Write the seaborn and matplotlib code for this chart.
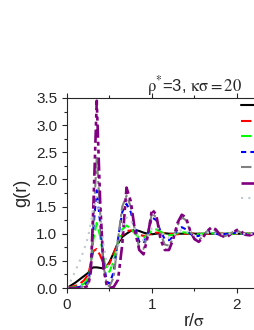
# g(r) curves, rho*=3, kappa*sigma=20
import numpy as np
import pandas as pd
import matplotlib
matplotlib.use("Agg")
import matplotlib.pyplot as plt
import seaborn as sns

# data
r = [0, 0.05, 0.1, 0.15, 0.2, 0.25, 0.28, 0.31, 0.35, 0.39, 0.43, 0.47, 0.5, 0.55, 0.6, 0.65,
     0.7, 0.75, 0.8, 0.85, 0.9, 0.95, 1.0, 1.05, 1.1, 1.15, 1.2, 1.25, 1.3, 1.35, 1.4, 1.45,
     1.5, 1.55, 1.6, 1.65, 1.7, 1.75, 1.8, 1.85, 1.9, 1.95, 2.0, 2.05, 2.1, 2.15, 2.2, 2.3]
g_black = [0, 0.05, 0.1, 0.16, 0.22, 0.28, 0.35, 0.38, 0.38, 0.37, 0.36, 0.4, 0.48, 0.65, 0.82, 0.94,
           1.0, 1.05, 1.07, 1.05, 1.02, 1.0, 0.99, 1.0, 1.01, 1.01, 1.0, 1.0, 1.0, 1.0, 1.0, 1.0,
           1.0, 1.0, 1.0, 1.0, 1.0, 1.0, 1.0, 1.0, 1.0, 1.0, 1.0, 1.0, 1.0, 1.0, 1.0, 1.0]
g_red = [0, 0.02, 0.04, 0.08, 0.14, 0.25, 0.45, 0.68, 0.72, 0.6, 0.45, 0.4, 0.45, 0.64, 0.85, 0.98,
         1.05, 1.06, 1.03, 0.98, 0.96, 0.97, 1.0, 1.02, 1.02, 1.01, 1.0, 0.99, 0.99, 1.0, 1.0, 1.01,
         1.0, 1.0, 0.99, 1.0, 1.0, 1.0, 1.0, 1.0, 1.0, 1.0, 1.0, 1.0, 1.0, 1.0, 1.0, 1.0]
g_green = [0, 0.01, 0.02, 0.04, 0.08, 0.18, 0.4, 0.9, 1.2, 0.95, 0.55, 0.32, 0.3, 0.5, 0.85, 1.08,
           1.15, 1.1, 1.0, 0.93, 0.93, 0.98, 1.06, 1.08, 1.04, 0.99, 0.97, 0.98, 1.01, 1.03, 1.02, 1.0,
           0.99, 0.99, 1.0, 1.01, 1.01, 1.0, 1.0, 1.0, 1.0, 1.0, 1.0, 1.0, 1.0, 1.0, 1.0, 1.0]
g_blue = [0, 0.0, 0.01, 0.02, 0.05, 0.12, 0.4, 1.1, 1.8, 1.2, 0.45, 0.12, 0.08, 0.3, 0.9, 1.4,
          1.55, 1.4, 1.1, 0.85, 0.82, 1.0, 1.3, 1.25, 1.05, 0.9, 0.88, 0.95, 1.08, 1.12, 1.08, 1.0,
          0.95, 0.96, 1.0, 1.03, 1.03, 1.0, 0.98, 0.99, 1.0, 1.01, 1.02, 1.0, 0.99, 1.0, 1.0, 1.0]
g_gray = [0, 0, 0.0, 0.01, 0.03, 0.08, 0.35, 1.2, 2.4, 1.4, 0.4, 0.06, 0.03, 0.2, 0.9, 1.5,
          1.7, 1.5, 1.05, 0.75, 0.72, 1.0, 1.38, 1.3, 1.0, 0.8, 0.78, 0.92, 1.15, 1.3, 1.25, 1.05,
          0.9, 0.88, 0.95, 1.05, 1.1, 1.05, 0.97, 0.95, 0.98, 1.03, 1.06, 1.02, 0.98, 0.99, 1.0, 1.0]
g_purple = [0, 0, 0, 0, 0.01, 0.04, 0.3, 1.5, 3.45, 1.6, 0.35, 0.03, 0.0, 0.02, 0.15, 0.8,
            1.85, 1.6, 1.05, 0.7, 0.62, 0.95, 1.45, 1.35, 0.9, 0.7, 0.7, 0.9, 1.2, 1.35, 1.3, 1.05,
            0.9, 0.85, 0.93, 1.05, 1.12, 1.08, 0.98, 0.94, 0.96, 1.02, 1.07, 1.04, 0.98, 0.97, 1.0, 1.0]
g_light = [0, 0.15, 0.32, 0.5, 0.7, 0.95, 1.2, 1.5, 1.7, 1.3, 0.8, 0.45, 0.35, 0.45, 0.75, 1.1,
           1.3, 1.25, 1.08, 0.92, 0.88, 0.95, 1.1, 1.12, 1.05, 0.95, 0.92, 0.96, 1.04, 1.07, 1.05, 1.0,
           0.97, 0.97, 0.99, 1.02, 1.02, 1.0, 0.99, 0.99, 1.0, 1.0, 1.01, 1.0, 1.0, 1.0, 1.0, 1.0]
# legend labels are cut off in the source image
labels = ["", "", "", "", "", "", ""]

curves = [g_black, g_red, g_green, g_blue, g_gray, g_purple, g_light]
colors = ["black", "#ff0000", "#00ff00", "#0000ff", "#808080", "#800080", "#c0c8d0"]
styles = ["-", (0, (5, 2)), (0, (5, 2)), (0, (2.5, 2)), (0, (5, 1.5, 1.5, 1.5)),
          (0, (5, 1.5, 1.5, 1.5, 1.5, 1.5)), (0, (1, 2.5))]
widths = [1.5, 1.5, 1.5, 1.5, 1.5, 1.9, 1.5]

sns.set_style("ticks")
plt.rcParams["font.family"] = ["Liberation Sans", "DejaVu Sans"]
plt.rcParams["mathtext.fontset"] = "stix"

fig = plt.figure(figsize=(2.55, 3.30), dpi=100)
ax = fig.add_axes([67 / 255, 42 / 330, 255 / 255, 190 / 330])

df = pd.DataFrame({"r": r})
for g, c, ls, lw in zip(curves, colors, styles, widths):
    df["g"] = g
    sns.lineplot(data=df, x="r", y="g", ax=ax, color=c, linestyle=ls, linewidth=lw)

ax.set_xlim(0, 3)
ax.set_ylim(0, 3.5)
ax.set_xticks([0, 1, 2])
ax.set_xticks(np.arange(0, 3.01, 0.5), minor=True)
ax.set_yticks(np.arange(0, 3.51, 0.5))
ax.set_yticks(np.arange(0, 3.51, 0.25), minor=True)
ax.yaxis.set_major_formatter(matplotlib.ticker.FormatStrFormatter("%.1f"))
ax.tick_params(which="both", direction="out", top=True, labelsize=11, width=0.8)
ax.tick_params(which="major", length=3.5)
ax.tick_params(which="minor", length=2)
for s in ax.spines.values():
    s.set_linewidth(0.8)

ax.set_xlabel(r"r/$\mathrm{\sigma}$", fontsize=13, labelpad=1)
ax.set_ylabel("g(r)", fontsize=13, labelpad=4)
ax.set_title(r"$\mathrm{\rho}^{*}$=3, $\mathrm{\kappa\sigma=20}$", fontsize=12, pad=4)

ax.legend(ax.get_lines()[:7], labels, loc="upper left", bbox_to_anchor=(0.682, 0.985),
          frameon=False, fontsize=8, borderpad=0, borderaxespad=0, labelspacing=0.5,
          handlelength=2.2)

fig.savefig("out.png", dpi=100)
